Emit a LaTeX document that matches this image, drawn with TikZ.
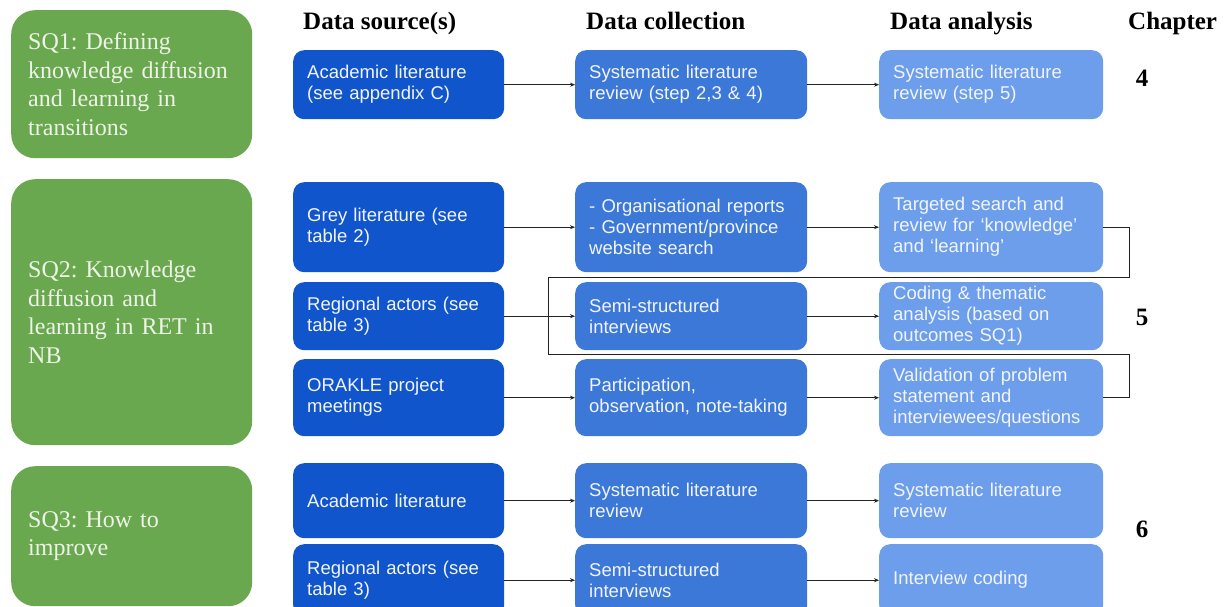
\documentclass[tikz,border=0pt]{standalone}
\usepackage{fontspec}
\setmainfont{Liberation Serif}
\setsansfont{Liberation Sans}
\usetikzlibrary{arrows.meta}
\frenchspacing
\definecolor{sqgreen}{HTML}{6AA84F}
\definecolor{srcblue}{HTML}{1155CC}
\definecolor{colblue}{HTML}{3C78D8}
\definecolor{anablue}{HTML}{6D9EEB}
\definecolor{boxtext}{HTML}{F2F5FC}
\definecolor{sqtext}{HTML}{EEF3E8}
\definecolor{linegrey}{HTML}{222222}
\begin{document}
\begin{tikzpicture}[x=1pt,y=-1pt,
  box/.style={rounded corners=11pt, inner xsep=14pt, inner ysep=0pt, align=left,
    font=\sffamily\fontsize{18.5}{21}\selectfont, text=boxtext, anchor=north west},
  srcbox/.style={box, fill=srcblue, minimum width=211pt, text width=183pt},
  colbox/.style={box, fill=colblue, minimum width=232pt, text width=204pt},
  anabox/.style={box, fill=anablue, minimum width=224pt, text width=196pt},
  sqbox/.style={rounded corners=24pt, fill=sqgreen, text=sqtext, inner xsep=17pt,
    inner ysep=0pt, align=left, text width=207pt, minimum width=241pt,
    font=\fontsize{24}{28.5}\selectfont, anchor=north west},
  hdr/.style={font=\bfseries\fontsize{25}{30}\selectfont, anchor=base west, inner sep=0pt},
  chap/.style={font=\bfseries\fontsize{25}{30}\selectfont, anchor=base, inner sep=0pt},
  arr/.style={-{Stealth[length=5pt,width=4pt]}, line width=0.7pt, draw=linegrey},
  fb/.style={line width=0.7pt, draw=linegrey}]
\useasboundingbox (0,0) rectangle (1226,607);
\clip (0,0) rectangle (1226,607);

% column headers
\node[hdr] (hsrc) at (303,30) {Data source(s)};
\node[hdr] (hcol) at (586,30) {Data collection};
\node[hdr] (hana) at (890,30) {Data analysis};
\node[hdr] (hchap) at (1128,30) {Chapter};

% sub-questions
\node[sqbox, minimum height=148pt] (sq1) at (11,10)
  {SQ1: Defining\\knowledge diffusion\\and learning in\\transitions};
\node[sqbox, minimum height=266pt] (sq2) at (11,179)
  {SQ2: Knowledge\\diffusion and\\learning in RET in\\NB};
\node[sqbox, minimum height=140pt] (sq3) at (11,466)
  {SQ3: How to\\improve};

% SQ1 row
\node[srcbox, minimum height=69pt] (a1) at (293,50) {Academic literature\\(see appendix C)};
\node[colbox, minimum height=69pt] (a2) at (575,50) {Systematic literature\\review (step 2,3 \& 4)};
\node[anabox, minimum height=69pt] (a3) at (879,50) {Systematic literature\\review (step 5)};

% SQ2 rows
\node[srcbox, minimum height=90pt] (g1) at (293,182) {Grey literature (see\\table 2)};
\node[colbox, minimum height=90pt] (g2) at (575,182) {- Organisational reports\\- Government/province\\website search};
\node[anabox, minimum height=90pt] (g3) at (879,182) {Targeted search and\\review for ‘knowledge’\\and ‘learning’};

\node[srcbox, minimum height=68pt] (r1) at (293,282) {Regional actors (see\\table 3)};
\node[colbox, minimum height=68pt] (r2) at (575,282) {Semi-structured\\interviews};
\node[anabox, minimum height=68pt] (r3) at (879,282) {Coding \& thematic\\analysis (based on\\outcomes SQ1)};

\node[srcbox, minimum height=77pt] (o1) at (293,359) {ORAKLE project\\meetings};
\node[colbox, minimum height=77pt] (o2) at (575,359) {Participation,\\observation, note-taking};
\node[anabox, minimum height=77pt] (o3) at (879,359) {Validation of problem\\statement and\\interviewees/questions};

% SQ3 rows
\node[srcbox, minimum height=75pt] (l1) at (293,463) {Academic literature};
\node[colbox, minimum height=75pt] (l2) at (575,463) {Systematic literature\\review};
\node[anabox, minimum height=75pt] (l3) at (879,463) {Systematic literature\\review};

\node[srcbox, minimum height=72pt] (i1) at (293,544) {Regional actors (see\\table 3)};
\node[colbox, minimum height=72pt] (i2) at (575,544) {Semi-structured\\interviews};
\node[anabox, minimum height=72pt] (i3) at (879,544) {Interview coding};

% chapter numbers
\node[chap] (ch4) at (1142,87) {4};
\node[chap] (ch5) at (1142,325) {5};
\node[chap] (ch6) at (1142,537) {6};

% flow arrows
\foreach \p in {a,g,r,o,l,i}{
  \draw[arr] (\p1.east) -- (\p2.west);
  \draw[arr] (\p2.east) -- (\p3.west);
}

% loop linking the analysis steps of SQ2
\coordinate (fbtr) at (1129,277);
\coordinate (fbtl) at (548,277);
\coordinate (fbbl) at (548,354);
\coordinate (fbbr) at (1129,354);
\draw[fb] (g3.east) -| (fbtr) -- (fbtl) -- (fbbl) -- (fbbr) |- (o3.east);
\end{tikzpicture}
\end{document}
